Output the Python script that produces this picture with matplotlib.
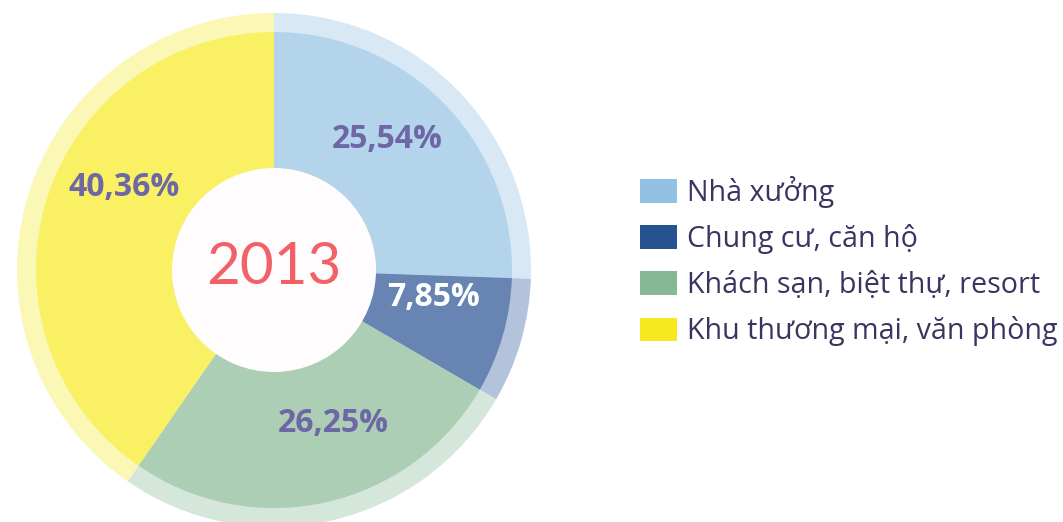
import matplotlib.pyplot as plt
from matplotlib.patches import Patch, Circle

# data
categories = ["Nhà xưởng", "Chung cư, căn hộ", "Khách sạn, biệt thự, resort", "Khu thương mại, văn phòng"]
shares = [25.54, 7.85, 26.25, 40.36]
year = "2013"

main_colors = ["#B3D4EA", "#6784B3", "#ABCEB5", "#F9F064"]
ring_colors = ["#D9E8F5", "#B4C3DC", "#D5E7DB", "#FBF7B5"]
legend_colors = ["#92C1E4", "#26528F", "#87B896", "#F6EA1E"]
label_colors = ["#6E67A6", "#FFFFFF", "#6E67A6", "#6E67A6"]
# label anchor points, pixels from top-left
label_pos = [(387, 140), (433, 297), (333, 423), (124, 188)]

fig = plt.figure(figsize=(10.63, 5.22), dpi=100)
ax = fig.add_axes([0, 0, 1, 1])

cx, cy = 274, 522 - 270

# outer light ring
ax.pie(shares, colors=ring_colors, radius=257, center=(cx, cy), startangle=90,
       counterclock=False, wedgeprops=dict(linewidth=0), frame=True)
# main slices
wedges, _ = ax.pie(shares, colors=main_colors, radius=238, center=(cx, cy), startangle=90,
                   counterclock=False, wedgeprops=dict(linewidth=0), frame=True)

for v, c, (px, py) in zip(shares, label_colors, label_pos):
    ax.text(px, 522 - py, f"{v:.2f}%".replace(".", ","), ha="center", va="center",
            fontsize=23, fontweight="bold", family="Open Sans", color=c, zorder=5)

# inner white hole
ax.add_patch(Circle((cx, cy), 102, facecolor="#FFFCFD", edgecolor="none", zorder=3))
ax.text(cx, cy + 2, year, ha="center", va="center", fontsize=42, color="#F26168",
        family="Lato", fontweight="normal", zorder=4)

ax.set_xlim(0, 1063)
ax.set_ylim(0, 522)
ax.set_aspect("equal")
ax.axis("off")

handles = [Patch(facecolor=c, edgecolor="none") for c in legend_colors]
leg = ax.legend(handles, categories, loc="center left", bbox_to_anchor=(640 / 1063, 1 - 261 / 522),
                frameon=False, handlelength=1.28, handleheight=0.9,
                handletextpad=0.35, labelspacing=0.58, borderaxespad=0, borderpad=0,
                prop=dict(family="Open Sans", size=20.6))
for t in leg.get_texts():
    t.set_color("#3A3560")

fig.savefig("out.png", dpi=100)
